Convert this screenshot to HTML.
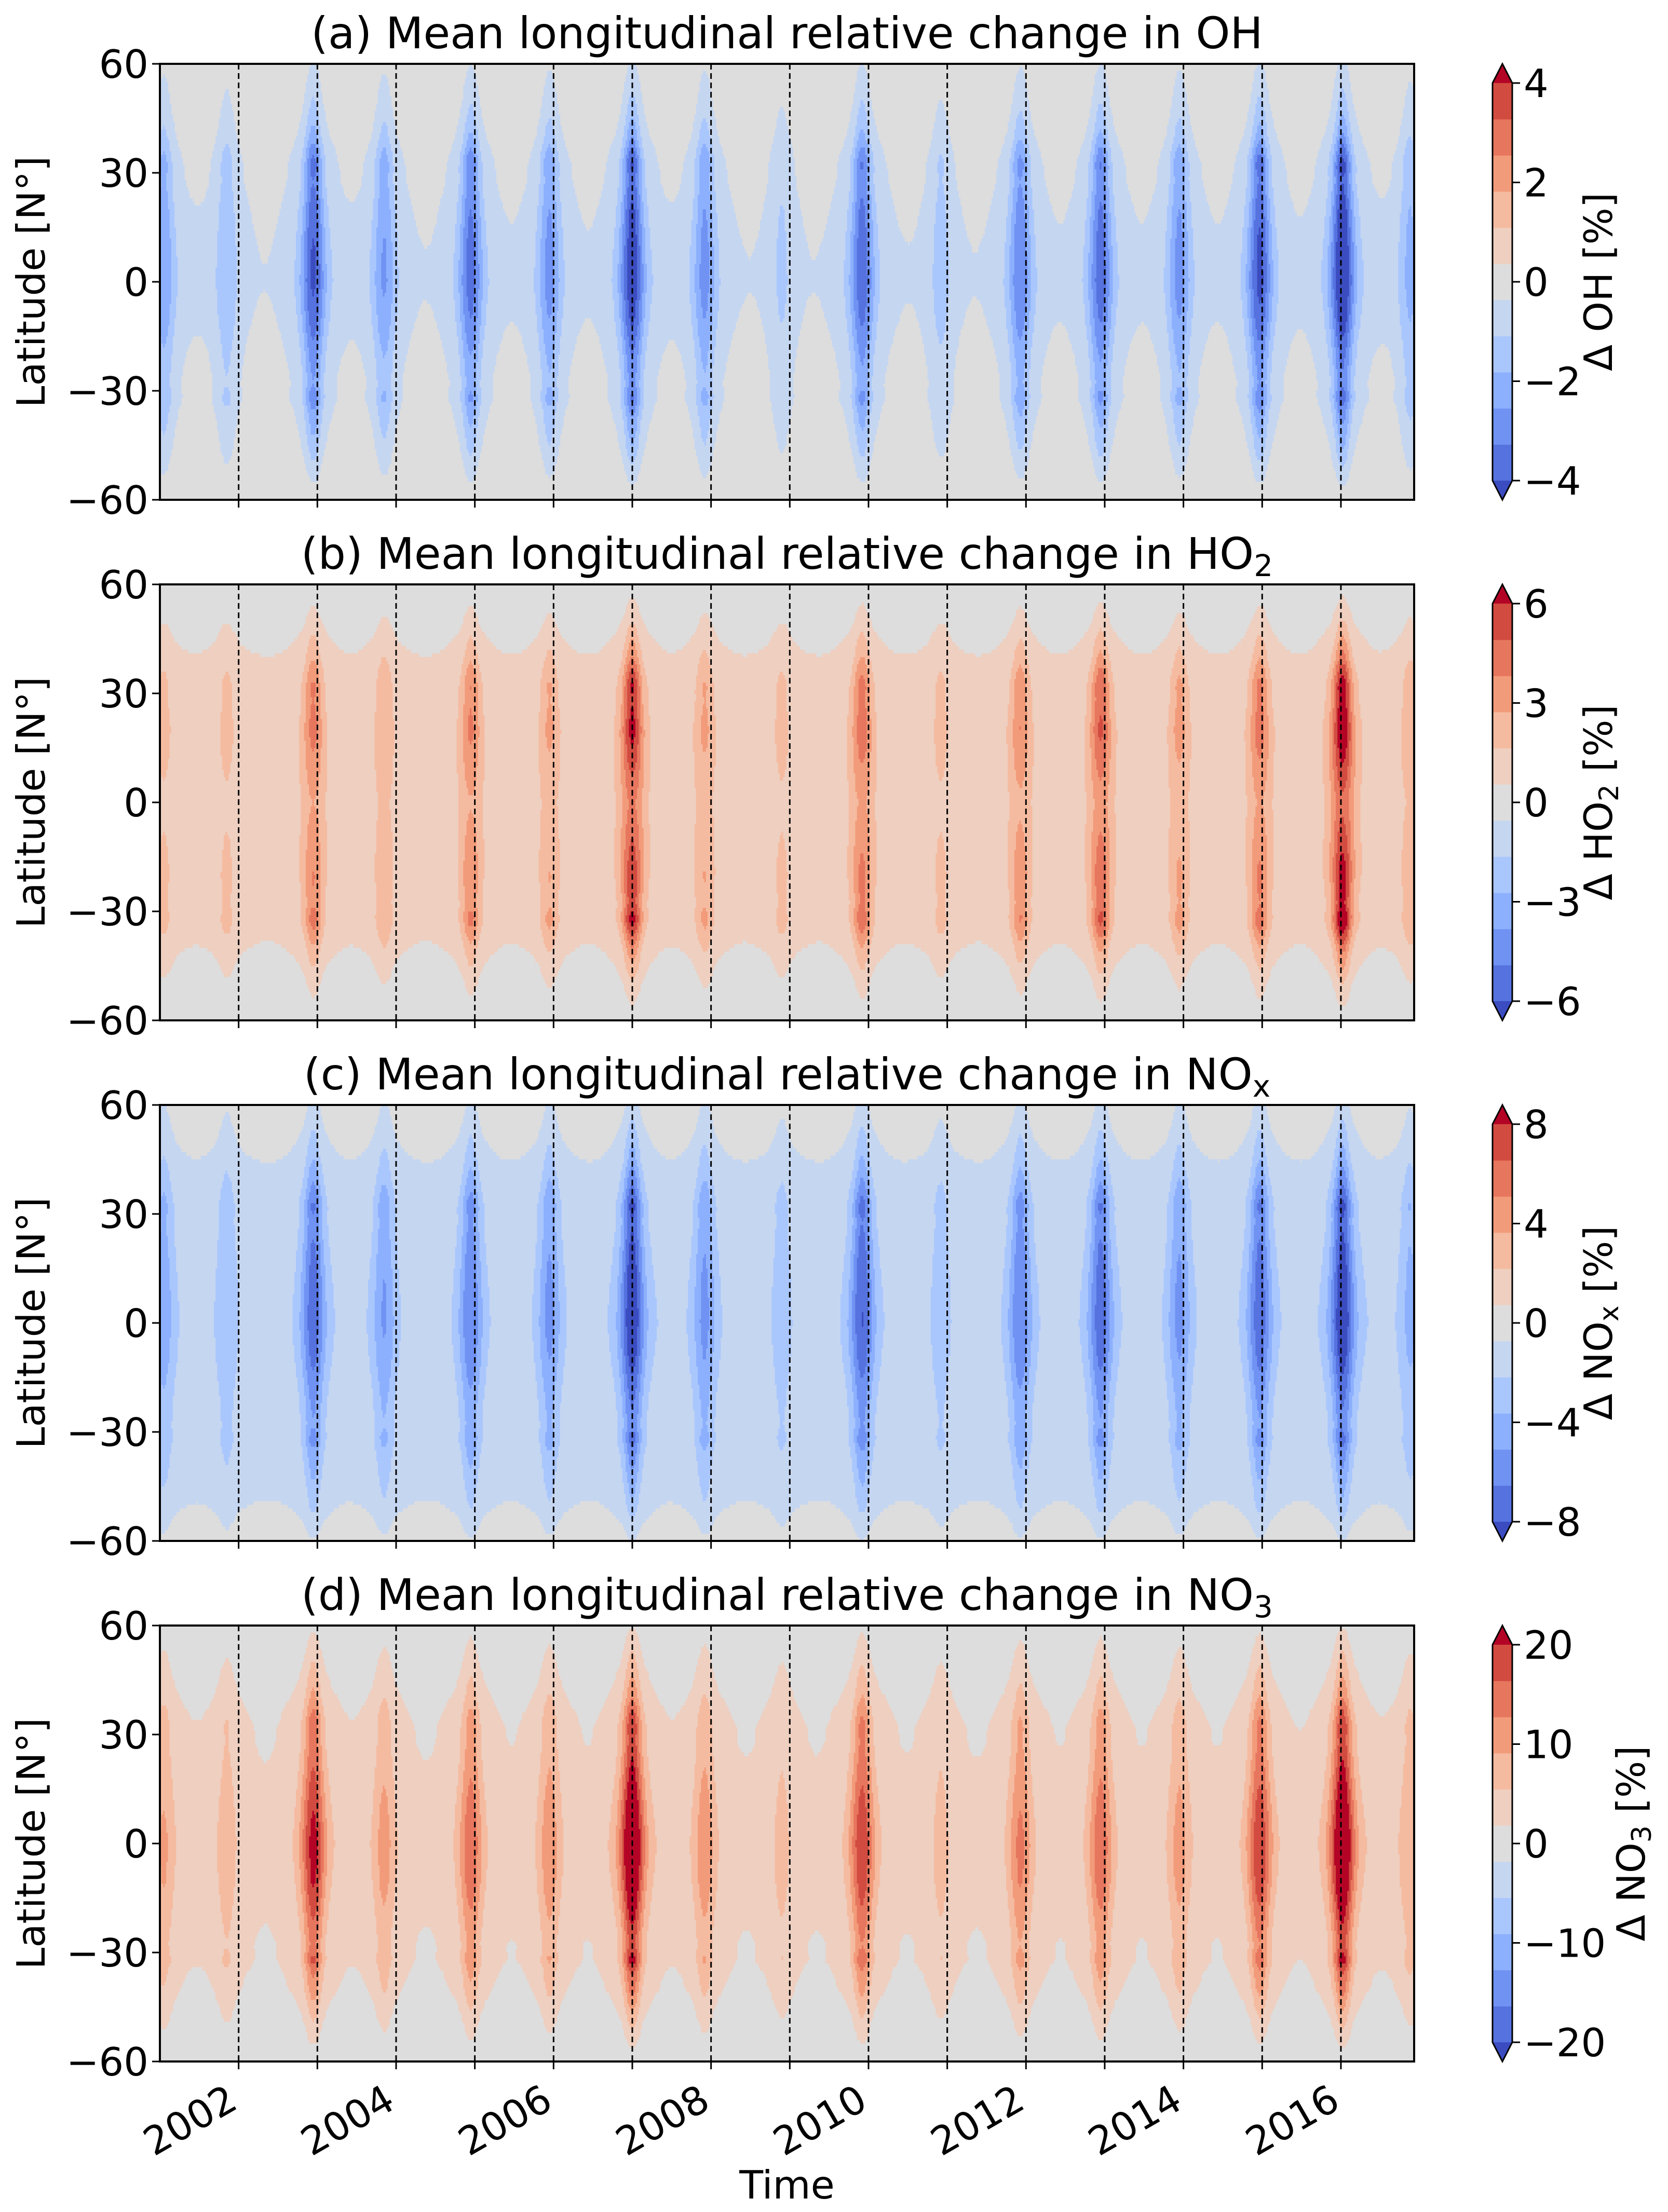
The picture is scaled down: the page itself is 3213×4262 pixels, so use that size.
<!DOCTYPE html>
<html><head><meta charset="utf-8">
<style>
html,body{margin:0;padding:0;background:#fff;}
svg{display:block;font-family:"DejaVu Sans","Liberation Sans",sans-serif;}
</style></head>
<body>
<svg id="fig" width="3213" height="4262" viewBox="0 0 3213 4262" xmlns="http://www.w3.org/2000/svg"></svg>
<script>
// ---- data ----
const eventTimes = [2001.05,2001.85,2002.95,2003.85,2004.95,2005.95,2007.0,2007.92,2008.9,2009.92,2010.92,2011.93,2012.95,2013.95,2014.97,2016.02,2016.88];
const ampOH  = [-2.2,-1.5,-3.9,-2.4,-3.4,-2.6,-4.4,-2.6,-1.0,-3.6,-1.2,-3.0,-3.5,-2.6,-4.0,-4.8,-1.8];
const ampHO2 = [1.5,1.5,4.0,2.2,3.8,2.6,6.5,2.6,1.5,4.4,1.5,3.5,5.0,2.8,4.2,7.5,2.0];
const ampNOx = [-3.5,-2.5,-6.5,-4.2,-5.5,-4.5,-8.5,-4.5,-2.0,-7.0,-2.0,-5.5,-6.5,-4.5,-6.5,-8.5,-3.0];
const ampNO3 = [8,6,20,9,14,10,26,10,5,18,5,12,14,9,18,26,7];
const profLats = [-60,-55,-50,-45,-40,-35,-32,-28,-20,-10,0,10,20,28,32,36,40,45,50,55,60];
const profOH  = [0,0.1,0.25,0.4,0.5,0.62,0.78,0.6,0.7,0.9,1.0,0.98,0.9,0.78,0.92,0.75,0.55,0.4,0.3,0.2,0.1];
const baseOH  = [0,0,0,-0.03,-0.08,-0.12,-0.14,-0.14,-0.17,-0.22,-0.25,-0.25,-0.22,-0.17,-0.14,-0.12,-0.08,-0.05,0,0,0];
const profHO2 = [0,0.1,0.2,0.35,0.5,0.8,0.95,0.75,0.8,0.65,0.5,0.7,0.9,0.8,0.85,0.7,0.5,0.35,0.2,0.1,0];
const baseHO2 = [0,0,0.1,0.3,0.5,0.6,0.65,0.65,0.7,0.7,0.7,0.7,0.7,0.65,0.65,0.6,0.55,0.4,0.2,0.05,0];
const profNOx = [0.05,0.15,0.3,0.4,0.5,0.6,0.75,0.6,0.7,0.9,1.0,0.98,0.9,0.78,0.92,0.75,0.6,0.45,0.35,0.25,0.15];
const baseNOx = [-0.3,-0.5,-0.7,-0.8,-0.9,-0.95,-1.0,-1.0,-1.0,-1.05,-1.05,-1.05,-1.0,-1.0,-1.0,-0.95,-0.85,-0.7,-0.5,-0.3,-0.2];
const profNO3 = [0,0.1,0.22,0.35,0.5,0.6,0.8,0.6,0.75,0.95,1.0,0.9,0.75,0.65,0.7,0.6,0.45,0.35,0.25,0.15,0.05];
const baseNO3 = [0,0,0.3,0.8,1.3,1.5,1.6,1.6,1.7,1.8,1.8,1.8,1.7,1.6,1.6,1.5,1.3,0.9,0.5,0.2,0];
const cbTicksOH = [-4,-2,0,2,4];
const cbTicksHO2 = [-6,-3,0,3,6];
const cbTicksNOx = [-8,-4,0,4,8];
const cbTicksNO3 = [-20,-10,0,10,20];
const latTicks = [-60,-30,0,30,60];
const yearLines = [2002,2003,2004,2005,2006,2007,2008,2009,2010,2011,2012,2013,2014,2015,2016];
const yearLabels = [2002,2004,2006,2008,2010,2012,2014,2016];

const binColors = ['#5572df','#6f92f3','#8db0fe','#aac7fd','#c5d6f1','#dddddd','#eecfc0','#f5bba0','#f29b7a','#e7765e','#d24b40'];
const extMin = '#3b4cc0', extMax = '#b40426';

const NS = 'http://www.w3.org/2000/svg';
const svg = document.getElementById('fig');
function mk(tag, attrs, parent){const e=document.createElementNS(NS,tag);for(const k in attrs)e.setAttribute(k,attrs[k]);(parent||svg).appendChild(e);return e;}

const X0=308, X1=2724, T0=2001.0, T1=2016.93;
const xs = t => X0 + (t-T0)/(T1-T0)*(X1-X0);
function interp(arr, lat){
  for(let i=0;i<profLats.length-1;i++){
    if(lat<=profLats[i+1]){const f=(lat-profLats[i])/(profLats[i+1]-profLats[i]);return arr[i]+f*(arr[i+1]-arr[i]);}
  }
  return arr[arr.length-1];
}
function colorFor(v,L){
  const w=2*L/11; const k=Math.floor((v+L)/w);
  if(k<0) return extMin; if(k>10) return extMax; return binColors[k];
}

const panels = [
 {id:'oh', top:123, L:4, amps:ampOH, prof:profOH, base:baseOH, ticks:cbTicksOH, title:['(a) Mean longitudinal relative change in OH',''], cbl:['Δ OH [%]'], cbx:3105},
 {id:'ho2', top:1126, L:6, amps:ampHO2, prof:profHO2, base:baseHO2, ticks:cbTicksHO2, title:['(b) Mean longitudinal relative change in HO','2'], cbl:['Δ HO','2',' [%]'], cbx:3105},
 {id:'nox', top:2129, L:8, amps:ampNOx, prof:profNOx, base:baseNOx, ticks:cbTicksNOx, title:['(c) Mean longitudinal relative change in NO','x'], cbl:['Δ NO','x',' [%]'], cbx:3105},
 {id:'no3', top:3132, L:20, amps:ampNO3, prof:profNO3, base:baseNO3, ticks:cbTicksNO3, title:['(d) Mean longitudinal relative change in NO','3'], cbl:['Δ NO','3',' [%]'], cbx:3168}
];
const H=840;

panels.forEach((p,pi)=>{
  const g = mk('g',{});
  
  
  const ys = lat => p.top + (60-lat)/120*H;
  const cid='clip'+pi;
  const cp=mk('clipPath',{id:cid},g); mk('rect',{x:X0,y:p.top,width:X1-X0,height:H},cp);
  const field = mk('g',{'clip-path':'url(#'+cid+')'},g);
  
  
  mk('rect',{x:X0,y:p.top,width:X1-X0,height:H,fill:'#dddddd'},field);
  const dt=1/48; const nC=Math.ceil((T1-T0)/dt);
  for(let lat=-60; lat<60; lat+=1){
    const lc=lat+0.5;
    const pr=interp(p.prof,lc), bs=interp(p.base,lc);
    const w=0.15*(1-0.5*Math.abs(lc)/60);
    let runStart=0, runCol=null;
    const flush=(end)=>{
      if(runCol && runCol!=='#dddddd'){
        const r=mk('rect',{x:xs(T0+runStart*dt)-0.3,y:ys(lat+1)-0.3,width:xs(T0+end*dt)-xs(T0+runStart*dt)+0.6,height:H/120+0.6,fill:runCol},field);
        
        
      }
    };
    for(let c=0;c<=nC;c++){
      let col=null;
      if(c<nC){
        const t=T0+(c+0.5)*dt;
        let v=bs;
        for(let i=0;i<eventTimes.length;i++){
          const d=(t-eventTimes[i])/w;
          if(Math.abs(d)<8) v+=p.amps[i]*pr*(0.75*Math.exp(-d*d)+0.25*Math.exp(-d*d/6.25));
        }
        col=colorFor(v,p.L);
      }
      if(col!==runCol){flush(c);runStart=c;runCol=col;}
    }
  }
  yearLines.forEach(y=>{
    const l=mk('line',{x1:xs(y),x2:xs(y),y1:p.top,y2:p.top+H,stroke:'#000','stroke-width':3,'stroke-dasharray':'11,7'},g);
    
    
    const tk=mk('line',{x1:xs(y),x2:xs(y),y1:p.top+H,y2:p.top+H+15,stroke:'#000','stroke-width':3},g);
    
    
  });
  const fr=mk('rect',{x:X0,y:p.top,width:X1-X0,height:H,fill:'none',stroke:'#000','stroke-width':4},g);
  
  
  latTicks.forEach(v=>{
    mk('line',{x1:X0-15,x2:X0,y1:ys(v),y2:ys(v),stroke:'#000','stroke-width':3},g);
    const t=mk('text',{x:X0-22,y:ys(v)+27,'font-size':75,'text-anchor':'end'},g);
    t.textContent=(v<0?'\u2212':'')+Math.abs(v);
    
    
  });
  const yl=mk('text',{x:0,y:0,'font-size':75,'text-anchor':'middle',transform:`translate(86,${p.top+H/2}) rotate(-90)`},g);
  yl.textContent='Latitude [N\u00b0]';
  
  
  const tt=mk('text',{x:(X0+X1)/2,y:p.top-30,'font-size':84,'text-anchor':'middle'},g);
  
  
  const ts1=mk('tspan',{},tt); ts1.textContent=p.title[0];
  if(p.title[1]){const ts2=mk('tspan',{'font-size':58,dy:14},tt); ts2.textContent=p.title[1];}
  const CB0=2875, CBW=38, cTop=p.top+37, cBot=p.top+H-37;
  const cy = v => cBot - (v+p.L)/(2*p.L)*(cBot-cTop);
  const cb=mk('g',{},g);
  
  
  for(let k=0;k<11;k++){
    const lo=-p.L+k*2*p.L/11, hi=lo+2*p.L/11;
    mk('rect',{x:CB0,y:cy(hi),width:CBW,height:cy(lo)-cy(hi)+0.5,fill:binColors[k]},cb);
  }
  mk('polygon',{points:`${CB0},${cTop} ${CB0+CBW},${cTop} ${CB0+CBW/2},${p.top}`,fill:extMax},cb);
  mk('polygon',{points:`${CB0},${cBot} ${CB0+CBW},${cBot} ${CB0+CBW/2},${p.top+H}`,fill:extMin},cb);
  mk('path',{d:`M${CB0},${cTop} L${CB0+CBW/2},${p.top} L${CB0+CBW},${cTop} L${CB0+CBW},${cBot} L${CB0+CBW/2},${p.top+H} L${CB0},${cBot} Z`,fill:'none',stroke:'#000','stroke-width':3},cb);
  p.ticks.forEach(v=>{
    mk('line',{x1:CB0+CBW,x2:CB0+CBW+15,y1:cy(v),y2:cy(v),stroke:'#000','stroke-width':3},cb);
    const t=mk('text',{x:CB0+CBW+22,y:cy(v)+27,'font-size':75},cb);
    t.textContent=(v<0?'\u2212':'')+Math.abs(v);
    
    
  });
  const cl=mk('text',{x:0,y:0,'font-size':75,'text-anchor':'middle',transform:`translate(${p.cbx},${p.top+H/2}) rotate(-90)`},cb);
  
  
  const a=mk('tspan',{},cl); a.textContent=p.cbl[0];
  if(p.cbl.length>1){const b=mk('tspan',{'font-size':52,dy:12},cl); b.textContent=p.cbl[1]; const c=mk('tspan',{dy:-12},cl); c.textContent=p.cbl[2];}
});
const bBot=3132+H;
yearLabels.forEach(y=>{
  const t=mk('text',{x:0,y:0,'font-size':75,'text-anchor':'end',transform:`translate(${xs(y)+2},${bBot+88}) rotate(-30)`});
  t.textContent=String(y);
  
  
});
const xt=mk('text',{x:1516,y:4236,'font-size':75,'text-anchor':'middle'});
xt.textContent='Time';


</script>
</body></html>
